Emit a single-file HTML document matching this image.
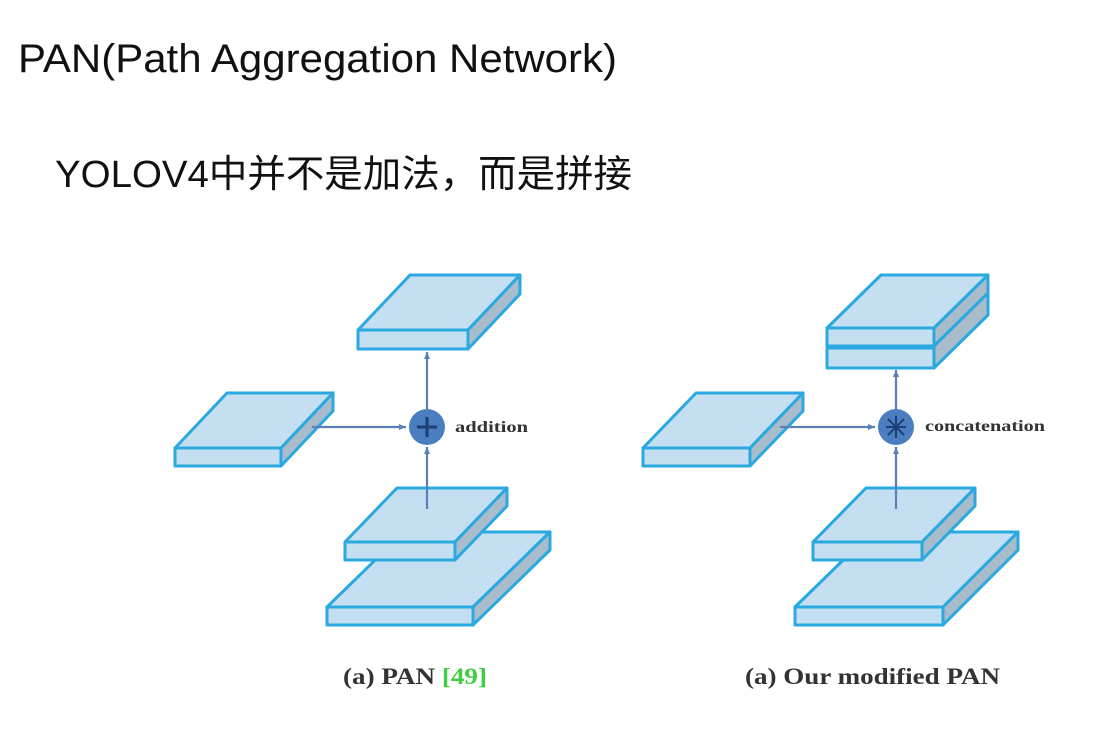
<!DOCTYPE html>
<html><head><meta charset="utf-8"><style>html,body{margin:0;padding:0;background:#fff;}svg{display:block}</style></head>
<body>
<svg width="1111" height="747" viewBox="0 0 1111 747" xmlns="http://www.w3.org/2000/svg">
<defs>
<marker id="ah" markerWidth="8" markerHeight="8" refX="7" refY="4" orient="auto" markerUnits="userSpaceOnUse"><path d="M0,1 L7,4 L0,7 z" fill="#5b7fb8"/></marker>
</defs>
<text x="18" y="72" font-family="Liberation Sans, sans-serif" font-size="40" fill="#111" textLength="599" lengthAdjust="spacingAndGlyphs">PAN(Path Aggregation Network)</text>
<text x="55" y="187" font-family="Liberation Sans, 'Noto Sans CJK SC', sans-serif" font-size="38" fill="#111" textLength="577" lengthAdjust="spacingAndGlyphs">YOLOV4中并不是加法，而是拼接</text>

<g stroke="#2aa8e0" stroke-width="3" stroke-linejoin="round">
<polygon points="327,607 404,532 550,532 473,607" fill="#c5dff2"/>
<polygon points="473,607 550,532 550,550 473,625" fill="#a9bccb"/>
<rect x="327" y="607" width="146" height="18" fill="#c5dff2"/>
<polygon points="345,542 397,488 507,488 455,542" fill="#c5dff2"/>
<polygon points="455,542 507,488 507,506 455,560" fill="#a9bccb"/>
<rect x="345" y="542" width="110" height="18" fill="#c5dff2"/>
<polygon points="175,448 227,393 333,393 281,448" fill="#c5dff2"/>
<polygon points="281,448 333,393 333,411 281,466" fill="#a9bccb"/>
<rect x="175" y="448" width="106" height="18" fill="#c5dff2"/>
<polygon points="358,330 410,275 520,275 468,330" fill="#c5dff2"/>
<polygon points="468,330 520,275 520,294 468,349" fill="#a9bccb"/>
<rect x="358" y="330" width="110" height="19" fill="#c5dff2"/>

<polygon points="795,607 872,532 1018,532 943,607" fill="#c5dff2"/>
<polygon points="943,607 1018,532 1018,550 943,625" fill="#a9bccb"/>
<rect x="795" y="607" width="148" height="18" fill="#c5dff2"/>
<polygon points="813,542 866,488 975,488 922,542" fill="#c5dff2"/>
<polygon points="922,542 975,488 975,506 922,560" fill="#a9bccb"/>
<rect x="813" y="542" width="109" height="18" fill="#c5dff2"/>
<polygon points="643,448 696,393 803,393 750,448" fill="#c5dff2"/>
<polygon points="750,448 803,393 803,411 750,466" fill="#a9bccb"/>
<rect x="643" y="448" width="107" height="18" fill="#c5dff2"/>
<polygon points="827,328 881,275 988,275 934,328" fill="#c5dff2"/>
<polygon points="934,328 988,275 988,315 934,368" fill="#a9bccb"/>
<line x1="934" y1="346" x2="988" y2="293"/>
<rect x="827" y="328" width="107" height="18" fill="#c5dff2"/>
<rect x="827" y="348" width="107" height="20" fill="#c5dff2"/>
</g>

<g stroke="#5b7fb8" stroke-width="2.2" fill="none">
<line x1="312" y1="427" x2="406" y2="427" marker-end="url(#ah)"/>
<line x1="427" y1="509" x2="427" y2="447" marker-end="url(#ah)"/>
<line x1="427" y1="409" x2="427" y2="352" marker-end="url(#ah)"/>
<line x1="780" y1="427" x2="875" y2="427" marker-end="url(#ah)"/>
<line x1="896" y1="509" x2="896" y2="447" marker-end="url(#ah)"/>
<line x1="896" y1="409" x2="896" y2="370" marker-end="url(#ah)"/>
</g>
<circle cx="427" cy="427" r="18" fill="#4a7ec0"/>
<path d="M417,427 H437 M427,417 V437" stroke="#1d3f73" stroke-width="3"/>
<circle cx="896" cy="427" r="18" fill="#4a7ec0"/>
<path d="M886,427 H906 M896,416 V438 M888,419 L904,435 M904,419 L888,435" stroke="#1d3f73" stroke-width="2"/>

<g font-family="Liberation Serif, serif" font-weight="bold" fill="#333">
<text x="455" y="432" font-size="16" textLength="73" lengthAdjust="spacingAndGlyphs">addition</text>
<text x="925" y="431" font-size="16" textLength="120" lengthAdjust="spacingAndGlyphs">concatenation</text>
<text x="343" y="684" font-size="23" textLength="144" lengthAdjust="spacingAndGlyphs">(a) PAN <tspan fill="#3fce3f">[49]</tspan></text>
<text x="745" y="684" font-size="23" textLength="255" lengthAdjust="spacingAndGlyphs">(a) Our modified PAN</text>
</g>
</svg>
</body></html>
